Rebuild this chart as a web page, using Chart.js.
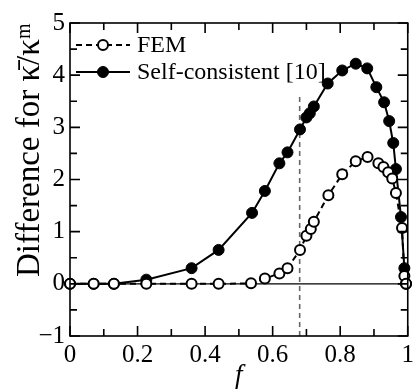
<!DOCTYPE html>
<html>
<head>
<meta charset="utf-8">
<script src="https://cdn.jsdelivr.net/npm/chart.js@4.4.0/dist/chart.umd.min.js"></script>
<style>
html, body { margin: 0; padding: 0; overflow: hidden; background: #fff; }
.warm { position: absolute; left: -999px; top: 0; font-family: 'Liberation Serif'; font-size: 20px; }
</style>
</head>
<body>
<span class="warm">Difference 0.2 <i>f</i></span>
<canvas id="chart" width="418" height="392"></canvas>
<script>
// FEM (open circles, dashed)
var femX = [0, 0.07, 0.13, 0.226, 0.36, 0.44, 0.536, 0.577, 0.62, 0.644, 0.681, 0.70, 0.713, 0.722, 0.765, 0.806, 0.846, 0.881, 0.913, 0.928, 0.942, 0.954, 0.965, 0.983, 0.99, 0.995];
var femY = [0, 0, 0, 0, 0, 0, 0.01, 0.1, 0.2, 0.3, 0.65, 0.92, 1.05, 1.19, 1.7, 2.1, 2.35, 2.43, 2.31, 2.24, 2.14, 2.02, 1.74, 1.07, 0.15, 0];
// Self-consistent [10] (filled circles, solid)
var scX = [0, 0.07, 0.13, 0.226, 0.36, 0.44, 0.539, 0.577, 0.62, 0.644, 0.681, 0.70, 0.71, 0.722, 0.763, 0.806, 0.846, 0.88, 0.907, 0.93, 0.945, 0.957, 0.965, 0.98, 0.99, 0.995];
var scY = [0, 0, 0, 0.08, 0.3, 0.65, 1.36, 1.78, 2.31, 2.52, 2.96, 3.19, 3.27, 3.40, 3.84, 4.09, 4.22, 4.13, 3.77, 3.48, 3.12, 2.70, 2.2, 1.28, 0.3, 0];
var seriesNames = ["FEM", "Self-consistent [10]"];
var fVertical = 0.68;
var xRange = [0, 1];
var yRange = [-1, 5];

function pts(xs, ys) {
  return xs.map(function (x, i) { return { x: x, y: ys[i] }; });
}

var serif = "'Liberation Serif', 'DejaVu Serif', serif";

// inward ticks, frame and in-plot legend
var framePlugin = {
  id: 'frame',
  afterDatasetsDraw: function (chart) {
    var ctx = chart.ctx, a = chart.chartArea;
    var xs = chart.scales.x, ys = chart.scales.y;
    ctx.save();
    ctx.strokeStyle = '#000';
    ctx.lineWidth = 1.6;
    ctx.beginPath();
    xs.ticks.forEach(function (t) {
      var px = xs.getPixelForValue(t.value);
      var len = t.label !== '' ? 10 : 7;
      ctx.moveTo(px, a.bottom); ctx.lineTo(px, a.bottom - len);
      ctx.moveTo(px, a.top); ctx.lineTo(px, a.top + len);
    });
    ys.ticks.forEach(function (t) {
      var py = ys.getPixelForValue(t.value);
      var len = t.label !== '' ? 10 : 7;
      ctx.moveTo(a.left, py); ctx.lineTo(a.left + len, py);
      ctx.moveTo(a.right, py); ctx.lineTo(a.right - len, py);
    });
    ctx.stroke();
    ctx.strokeRect(a.left, a.top, a.right - a.left, a.bottom - a.top);

    // legend
    var rows = [
      { ds: chart.data.datasets[0], y: a.top + 22 },
      { ds: chart.data.datasets[1], y: a.top + 49 }
    ];
    rows.forEach(function (r) {
      var ds = r.ds;
      ctx.beginPath();
      ctx.setLineDash(ds.borderDash || []);
      ctx.lineWidth = ds.borderWidth;
      ctx.strokeStyle = ds.borderColor;
      ctx.moveTo(a.left + 6, r.y); ctx.lineTo(a.left + 60, r.y);
      ctx.stroke();
      ctx.setLineDash([]);
      ctx.beginPath();
      ctx.arc(a.left + 33, r.y, ds.pointRadius, 0, Math.PI * 2);
      ctx.fillStyle = ds.pointBackgroundColor;
      ctx.fill();
      ctx.lineWidth = ds.pointBorderWidth;
      ctx.strokeStyle = ds.pointBorderColor;
      ctx.stroke();
      ctx.fillStyle = '#000';
      ctx.font = "24px " + serif;
      ctx.textBaseline = 'middle';
      ctx.fillText(ds.label, a.left + 67, r.y + 1);
    });
    ctx.restore();
  }
};

function draw() {
  new Chart(document.getElementById('chart'), {
    type: 'scatter',
    data: {
      datasets: [
        {
          label: seriesNames[0],
          data: pts(femX, femY),
          showLine: true,
          borderColor: '#000',
          borderWidth: 2,
          borderDash: [6, 4],
          pointRadius: 5,
          pointBorderWidth: 2,
          pointBorderColor: '#000',
          pointBackgroundColor: '#fff',
          clip: false
        },
        {
          label: seriesNames[1],
          data: pts(scX, scY),
          showLine: true,
          borderColor: '#000',
          borderWidth: 2,
          pointRadius: 5.5,
          pointBorderWidth: 1,
          pointBorderColor: '#000',
          pointBackgroundColor: '#000',
          clip: false
        },
        {
          label: 'zero',
          data: pts(xRange, [0, 0]),
          showLine: true,
          borderColor: '#000',
          borderWidth: 1.2,
          pointRadius: 0
        },
        {
          label: 'f*',
          data: pts([fVertical, fVertical], [yRange[0], 3.6]),
          showLine: true,
          borderColor: '#666',
          borderWidth: 1.6,
          borderDash: [5, 4],
          pointRadius: 0
        }
      ]
    },
    options: {
      responsive: false,
      animation: false,
      layout: { padding: { top: 23, right: 3, left: 0, bottom: 0 } },
      plugins: { legend: { display: false }, tooltip: { enabled: false } },
      scales: {
        x: {
          type: 'linear',
          min: xRange[0],
          max: xRange[1],
          grid: { display: false, drawTicks: false },
          border: { display: false },
          afterFit: function (s) { s.height = 56; },
          ticks: {
            stepSize: 0.1,
            autoSkip: false,
            maxRotation: 0,
            padding: 4,
            color: '#000',
            font: { family: serif, size: 25 },
            callback: function (v) {
              var k = Math.round(v * 10);
              if (k % 2 !== 0) return '';
              return k === 0 ? '0' : (k === 10 ? '1' : (k / 10).toFixed(1));
            }
          },
          title: {
            display: true,
            text: 'f',
            color: '#000',
            padding: 0,
            font: { family: serif, size: 27, style: 'italic' }
          }
        },
        y: {
          min: yRange[0],
          max: yRange[1],
          grid: { display: false, drawTicks: false },
          border: { display: false },
          afterFit: function (s) { s.width = 70; },
          ticks: {
            stepSize: 0.5,
            autoSkip: false,
            padding: 5,
            color: '#000',
            font: { family: serif, size: 25 },
            callback: function (v) {
              if (Math.abs(v - Math.round(v)) > 1e-6) return '';
              return v < 0 ? '\u2212' + Math.abs(v) : String(v);
            }
          },
          title: {
            display: true,
            text: 'Difference for \u03BA\u0304/\u03BA\u1D50',
            align: 'end',
            color: '#000',
            padding: { top: 11, bottom: 0 },
            font: { family: serif, size: 33 }
          }
        }
      }
    },
    plugins: [framePlugin]
  });
}

Promise.all([
  document.fonts.load("25px 'Liberation Serif'"),
  document.fonts.load("italic 26px 'Liberation Serif'")
]).then(draw, draw);
</script>
</body>
</html>
